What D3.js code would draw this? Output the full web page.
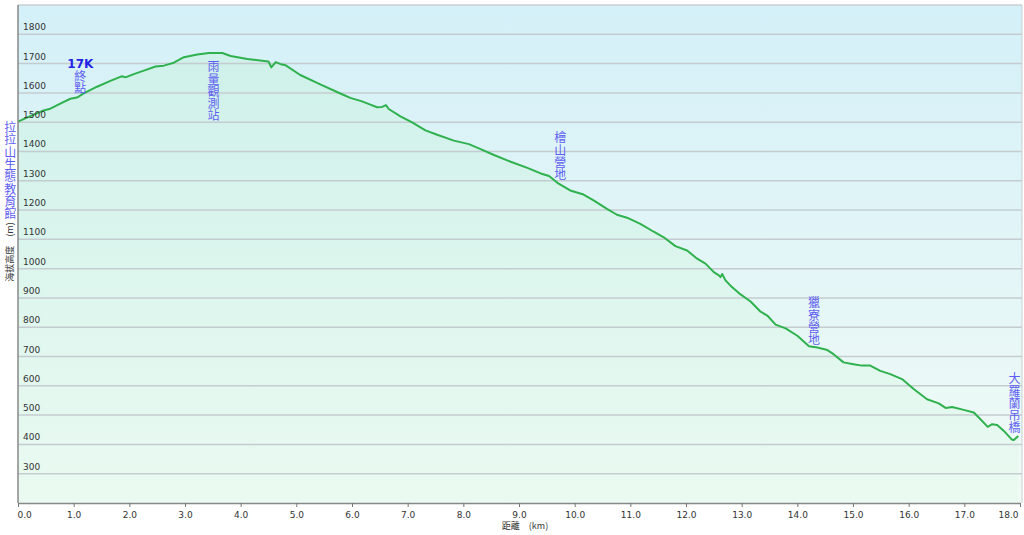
<!DOCTYPE html>
<html><head><meta charset="utf-8">
<script src="https://cdn.jsdelivr.net/npm/d3@7"></script>
<style>html,body{margin:0;padding:0;background:#fff;}svg{display:block;}
.vt{writing-mode:vertical-rl;text-orientation:upright;}</style>
</head><body>
<svg id="chart" width="1024" height="535"></svg>
<script>
// ---- data ----
const distKm = [0.0,0.28,0.46,0.58,0.76,0.94,1.06,1.18,1.42,1.66,1.87,1.93,2.08,2.26,2.47,2.62,2.80,2.98,3.22,3.43,3.67,3.82,4.12,4.46,4.50,4.55,4.63,4.72,4.81,5.07,5.43,5.79,5.97,6.18,6.33,6.45,6.54,6.61,6.66,6.87,7.08,7.32,7.53,7.83,8.10,8.31,8.55,8.85,9.15,9.39,9.54,9.69,9.92,10.16,10.34,10.58,10.76,10.94,11.18,11.42,11.60,11.81,12.02,12.20,12.35,12.50,12.59,12.62,12.65,12.71,12.80,12.98,13.16,13.34,13.46,13.61,13.79,14.00,14.21,14.36,14.54,14.65,14.83,15.01,15.16,15.31,15.49,15.67,15.88,16.09,16.33,16.54,16.67,16.78,16.99,17.17,17.29,17.42,17.50,17.59,17.71,17.85,17.89,17.97];
const elevM = [1502,1526,1540,1546,1563,1580,1584,1598,1621,1641,1657,1653,1664,1676,1690,1693,1703,1722,1731,1736,1736,1726,1716,1708,1707,1687,1705,1698,1694,1661,1629,1598,1583,1571,1560,1551,1552,1558,1545,1520,1499,1472,1457,1437,1425,1408,1388,1365,1344,1325,1316,1293,1267,1253,1233,1204,1184,1174,1153,1126,1107,1077,1062,1034,1017,988,977,971,982,960,942,912,888,853,840,809,796,771,735,731,722,708,680,674,669,669,651,640,623,589,554,540,524,528,518,509,486,460,469,466,446,417,415,429];
const xTicks = [0,1,2,3,4,5,6,7,8,9,10,11,12,13,14,15,16,17,18];
const yTicks = [300,400,500,600,700,800,900,1000,1100,1200,1300,1400,1500,1600,1700,1800];
const placeNames = ["拉拉山生態教育館","終點","雨量觀測站","檜山營地","獵寮營地","大羅蘭吊橋"];
const placeKm = [-0.14,1.12,3.51,9.74,14.30,17.90];
const placeTopElev = [1502,1678,1710,1467,904,645];
const markerText = ["17K"];
const markerKm = [1.12];
const markerElev = [1716];
const xTitle = "距離　(km)";
const yTitle = "海拔高度　(m)";

// ---- layout ----
const svg = d3.select("#chart");
const L = 18, R = 1020, T = 5, B = 503;
const x = d3.scaleLinear().domain([0,18]).range([L,R]);
const y = d3.scaleLinear().domain([200,1900]).range([B,T]);
const pts = distKm.map((d,i)=>[d,elevM[i]]);

const defs = svg.append("defs");
const bg = defs.append("linearGradient").attr("id","bg").attr("x1",0).attr("y1",0).attr("x2",0).attr("y2",1);
bg.append("stop").attr("offset","0%").attr("stop-color","#d4f0f8");
bg.append("stop").attr("offset","100%").attr("stop-color","#f1fbf6");
const ag = defs.append("linearGradient").attr("id","ag").attr("gradientUnits","userSpaceOnUse")
  .attr("x1",0).attr("y1",T).attr("x2",0).attr("y2",B);
ag.append("stop").attr("offset","0%").attr("stop-color","#c2f0d8").attr("stop-opacity",0.45);
ag.append("stop").attr("offset","100%").attr("stop-color","#e0f9e8").attr("stop-opacity",0.4);

svg.append("rect").attr("x",L).attr("y",T).attr("width",R+2-L).attr("height",B-T).attr("fill","url(#bg)");

// area
svg.append("path").datum(pts)
  .attr("d", d3.area().x(d=>x(d[0])).y0(B).y1(d=>y(d[1])))
  .attr("fill","url(#ag)");

// gridlines
svg.append("g").selectAll("line").data(yTicks).join("line")
  .attr("x1",L).attr("x2",R+2).attr("y1",d=>y(d)).attr("y2",d=>y(d))
  .attr("stroke","#c4ccd0").attr("stroke-width",1.5);

// frame
svg.append("line").attr("x1",L).attr("x2",R+2).attr("y1",T).attr("y2",T).attr("stroke","#c9cfd2").attr("stroke-width",1.5);
svg.append("line").attr("x1",R+2).attr("x2",R+2).attr("y1",T).attr("y2",B).attr("stroke","#c9cfd2").attr("stroke-width",1);

// line
svg.append("path").datum(pts)
  .attr("d", d3.line().x(d=>x(d[0])).y(d=>y(d[1])))
  .attr("fill","none").attr("stroke","#2fb14e").attr("stroke-width",2).attr("stroke-linejoin","round");

// y tick labels (inside)
svg.append("g").selectAll("text").data(yTicks).join("text")
  .attr("x",L+5).attr("y",d=>y(d)-4)
  .attr("font-family","DejaVu Sans, Verdana, sans-serif").attr("font-size",9)
  .attr("fill","#333").text(d=>d);

// axes
const xAxis = d3.axisBottom(x).tickValues(xTicks).tickFormat(d3.format(".1f")).tickSize(4).tickSizeOuter(0);
const gx = svg.append("g").attr("transform",`translate(0,${B})`).call(xAxis);
gx.select(".domain").attr("stroke","#888").attr("stroke-width",1.5);
gx.selectAll(".tick line").attr("stroke","#777");
gx.selectAll(".tick text").attr("font-family","DejaVu Sans, Verdana, sans-serif").attr("font-size",9)
  .attr("fill","#333").attr("dy","0.9em")
  .attr("text-anchor",d=>d===0?"start":(d===18?"end":"middle"))
  .attr("dx",d=>d===0?-1:(d===18?-2:0));
svg.append("line").attr("x1",L).attr("x2",L).attr("y1",T).attr("y2",B).attr("stroke","#888").attr("stroke-width",1.5);

// axis titles
svg.append("text").attr("x",(L+R)/2+6).attr("y",529).attr("text-anchor","middle")
  .attr("font-family","Noto Sans CJK TC, DejaVu Sans, sans-serif").attr("font-size",9).attr("fill","#333").text(xTitle);
svg.append("text").attr("transform",`translate(13,${252}) rotate(-90)`).attr("text-anchor","middle")
  .attr("font-family","Noto Sans CJK TC, DejaVu Sans, sans-serif").attr("font-size",9).attr("fill","#333").text(yTitle);

// place labels (vertical, one text each)
svg.append("g").selectAll("text").data(placeNames).join("text")
  .attr("class","vt")
  .attr("x",(d,i)=>x(placeKm[i])).attr("y",(d,i)=>y(placeTopElev[i]))
  .attr("font-family","Noto Sans CJK TC, sans-serif").attr("font-size",12)
  .attr("letter-spacing",0.3).attr("fill","#5e5ef2").text(d=>d);
svg.append("g").selectAll("text").data(markerText).join("text")
  .attr("x",(d,i)=>x(markerKm[i])).attr("y",(d,i)=>y(markerElev[i])+9)
  .attr("text-anchor","middle").attr("font-family","DejaVu Sans, Arial, sans-serif")
  .attr("font-weight","bold").attr("font-size",12).attr("fill","#2323e6").text(d=>d);
</script>
</body></html>
